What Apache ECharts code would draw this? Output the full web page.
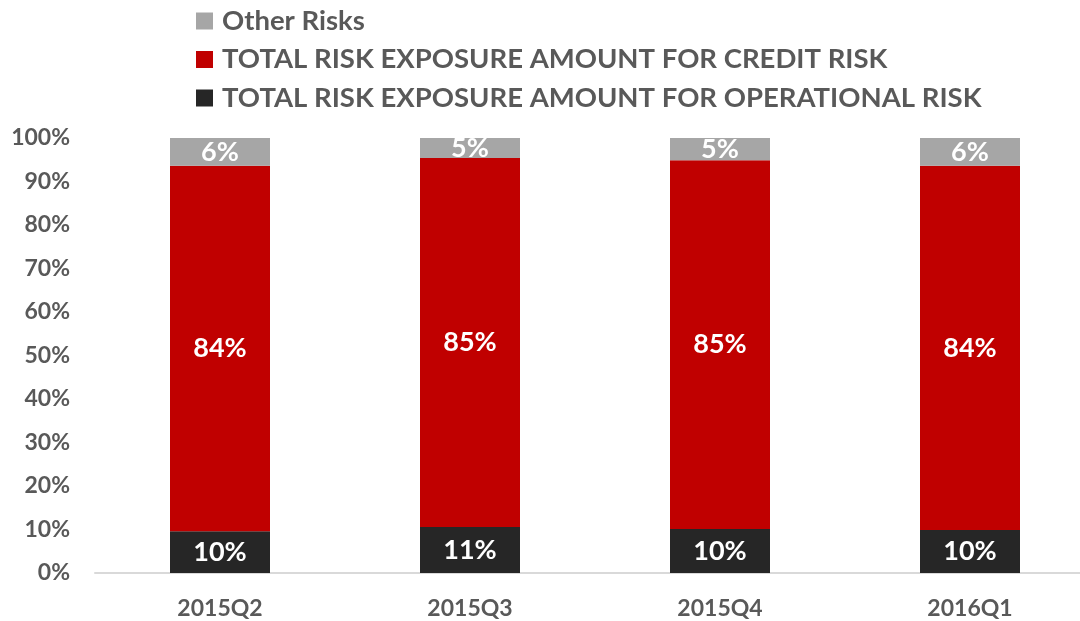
<!DOCTYPE html>
<html><head><meta charset="utf-8">
<script src="https://cdn.jsdelivr.net/npm/echarts@6/dist/echarts.min.js"></script>
<style>html,body{margin:0;padding:0;background:#fff;overflow:hidden}#c{width:1100px;height:621px}</style>
</head><body><div id="c"></div>
<script>
const categories = ['2015Q2', '2015Q3', '2015Q4', '2016Q1'];
const operational = [9.6, 10.6, 10.1, 9.9];
const credit = [84.0, 84.8, 84.8, 83.7];
const other = [6.4, 4.6, 5.1, 6.4];
const yTicks = [0, 10, 20, 30, 40, 50, 60, 70, 80, 90, 100];

const FONT = 'Lato';
const chart = echarts.init(document.getElementById('c'));
const lbl = {show: true, position: 'inside', color: '#fff', fontWeight: 'bold', fontSize: 27, fontFamily: FONT,
  formatter: p => Math.round(p.value) + '%'};
chart.setOption({
  animation: false,
  legend: {
    orient: 'vertical', left: 196, top: 7, padding: 0, itemWidth: 17, itemHeight: 17, itemGap: 10.5,
    icon: 'rect',
    textStyle: {color: '#595959', fontWeight: 'bold', fontSize: 27.5, lineHeight: 28, fontFamily: FONT, padding: [0, 0, 0, 4]},
    data: ['Other Risks', 'TOTAL RISK EXPOSURE AMOUNT FOR CREDIT RISK', 'TOTAL RISK EXPOSURE AMOUNT FOR OPERATIONAL RISK']
  },
  grid: {left: 95, top: 138, right: 5, bottom: 48},
  xAxis: {
    type: 'category', data: categories,
    axisLine: {lineStyle: {color: '#d9d9d9', width: 2}}, axisTick: {show: false},
    axisLabel: {color: '#595959', fontWeight: 'bold', fontSize: 23, fontFamily: FONT, margin: 24}
  },
  yAxis: {
    type: 'value', min: yTicks[0], max: yTicks[yTicks.length - 1], interval: 10,
    splitLine: {show: false}, axisLine: {show: false}, axisTick: {show: false},
    axisLabel: {color: '#595959', fontWeight: 'bold', fontSize: 23, fontFamily: FONT, margin: 25, formatter: '{value}%'}
  },
  series: [
    {name: 'TOTAL RISK EXPOSURE AMOUNT FOR OPERATIONAL RISK', type: 'bar', stack: 's', data: operational,
      barWidth: 100, itemStyle: {color: '#262626'}, label: lbl},
    {name: 'TOTAL RISK EXPOSURE AMOUNT FOR CREDIT RISK', type: 'bar', stack: 's', data: credit,
      itemStyle: {color: '#c00000'}, label: lbl},
    {name: 'Other Risks', type: 'bar', stack: 's', data: other,
      itemStyle: {color: '#a6a6a6'}, label: lbl}
  ]
});
</script></body></html>
